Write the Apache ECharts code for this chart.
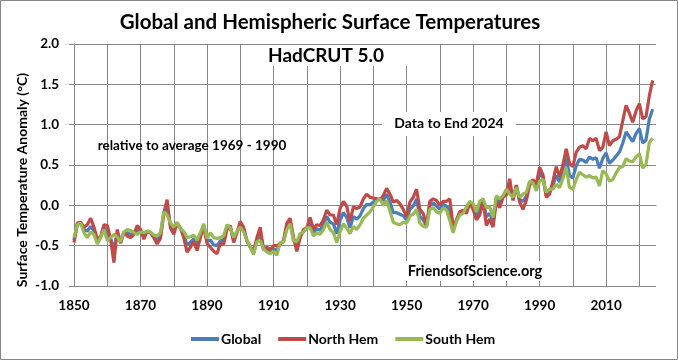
<!DOCTYPE html>
<html><head><meta charset="utf-8">
<script src="https://cdn.jsdelivr.net/npm/echarts@6/dist/echarts.min.js"></script>
<style>html,body{margin:0;padding:0;background:#fff}#c{width:678px;height:360px}</style>
</head><body><div id="c"></div>
<script>
const firstYear = 1850, lastAxisYear = 2025;
const years = [];
for (let y = firstYear; y <= lastAxisYear; y++) years.push(String(y));

const globalT = [
-0.43,-0.23,-0.22,-0.30,-0.32,-0.26,-0.32,-0.45,-0.40,-0.27,
-0.35,-0.41,-0.54,-0.35,-0.46,-0.33,-0.34,-0.36,-0.35,-0.31,
-0.32,-0.38,-0.32,-0.34,-0.39,-0.43,-0.38,-0.09,-0.03,-0.25,
-0.32,-0.22,-0.29,-0.36,-0.49,-0.46,-0.41,-0.50,-0.37,-0.25,
-0.44,-0.43,-0.49,-0.50,-0.44,-0.43,-0.27,-0.27,-0.43,-0.33,
-0.24,-0.30,-0.44,-0.52,-0.59,-0.43,-0.36,-0.55,-0.55,-0.58,
-0.54,-0.56,-0.47,-0.45,-0.26,-0.20,-0.42,-0.51,-0.38,-0.32,
-0.28,-0.22,-0.34,-0.29,-0.31,-0.24,-0.14,-0.21,-0.23,-0.35,
-0.19,-0.09,-0.15,-0.28,-0.14,-0.17,-0.13,-0.04,0.01,0.01,
0.04,0.07,0.08,0.06,0.14,0.04,-0.09,-0.09,-0.11,-0.13,
-0.18,-0.05,-0.01,0.08,-0.14,-0.18,-0.26,0.00,0.03,-0.01,
-0.05,0.01,-0.01,-0.06,-0.30,-0.19,-0.10,-0.08,-0.06,0.04,
-0.02,-0.13,-0.04,0.07,-0.14,-0.10,-0.21,0.09,0.03,0.11,
0.17,0.24,0.08,0.24,0.07,0.05,0.11,0.28,0.30,0.22,
0.39,0.35,0.13,0.17,0.25,0.37,0.29,0.42,0.59,0.37,
0.34,0.49,0.57,0.56,0.53,0.60,0.57,0.59,0.46,0.58,
0.65,0.52,0.56,0.61,0.66,0.77,0.91,0.85,0.79,0.89,
0.95,0.77,0.81,1.07,1.19
];
const northT = [
-0.46,-0.22,-0.21,-0.27,-0.24,-0.16,-0.27,-0.42,-0.39,-0.24,
-0.25,-0.42,-0.71,-0.30,-0.47,-0.33,-0.38,-0.40,-0.36,-0.25,
-0.30,-0.42,-0.32,-0.34,-0.40,-0.48,-0.41,-0.10,0.07,-0.28,
-0.36,-0.22,-0.28,-0.40,-0.58,-0.52,-0.45,-0.56,-0.40,-0.27,
-0.47,-0.52,-0.57,-0.60,-0.47,-0.48,-0.30,-0.25,-0.46,-0.34,
-0.20,-0.27,-0.44,-0.52,-0.56,-0.40,-0.27,-0.55,-0.52,-0.55,
-0.50,-0.50,-0.48,-0.44,-0.22,-0.16,-0.40,-0.57,-0.40,-0.30,
-0.28,-0.15,-0.30,-0.24,-0.25,-0.18,-0.06,-0.12,-0.12,-0.24,
-0.04,0.05,-0.01,-0.20,-0.02,-0.04,-0.02,0.08,0.14,0.10,
0.09,0.08,0.07,0.12,0.21,0.14,0.04,0.06,0.02,-0.05,
-0.14,0.04,0.10,0.20,-0.05,-0.10,-0.25,0.05,0.08,0.06,
0.00,0.05,0.05,0.08,-0.27,-0.18,-0.08,-0.06,-0.10,0.03,
-0.05,-0.18,-0.12,0.06,-0.25,-0.17,-0.27,0.05,-0.03,0.10,
0.13,0.33,0.06,0.25,0.04,-0.05,0.06,0.25,0.32,0.26,
0.47,0.38,0.10,0.14,0.30,0.48,0.35,0.50,0.70,0.52,
0.48,0.66,0.72,0.74,0.70,0.83,0.80,0.83,0.68,0.72,
0.91,0.74,0.80,0.82,0.85,1.05,1.24,1.14,1.03,1.17,
1.26,1.07,1.10,1.36,1.55
];
const southT = [
-0.40,-0.24,-0.22,-0.34,-0.40,-0.33,-0.36,-0.48,-0.40,-0.30,
-0.44,-0.40,-0.36,-0.39,-0.45,-0.33,-0.30,-0.31,-0.34,-0.36,
-0.33,-0.34,-0.32,-0.33,-0.37,-0.38,-0.34,-0.08,-0.12,-0.22,
-0.27,-0.21,-0.30,-0.32,-0.40,-0.39,-0.37,-0.43,-0.34,-0.23,
-0.41,-0.34,-0.40,-0.41,-0.40,-0.38,-0.24,-0.28,-0.40,-0.32,
-0.27,-0.33,-0.43,-0.52,-0.61,-0.45,-0.44,-0.54,-0.58,-0.60,
-0.57,-0.62,-0.46,-0.46,-0.30,-0.23,-0.44,-0.45,-0.35,-0.33,
-0.28,-0.28,-0.38,-0.34,-0.36,-0.30,-0.21,-0.30,-0.34,-0.46,
-0.33,-0.23,-0.28,-0.35,-0.26,-0.30,-0.24,-0.16,-0.12,-0.08,
-0.02,0.05,0.08,0.00,0.06,-0.07,-0.21,-0.23,-0.24,-0.21,
-0.22,-0.13,-0.11,-0.05,-0.22,-0.26,-0.27,-0.05,-0.03,-0.08,
-0.10,-0.03,-0.06,-0.19,-0.34,-0.20,-0.12,-0.10,-0.02,0.05,
0.02,-0.08,0.05,0.08,-0.03,-0.02,-0.15,0.12,0.08,0.12,
0.20,0.14,0.10,0.22,0.10,0.14,0.16,0.30,0.28,0.18,
0.30,0.32,0.16,0.20,0.20,0.26,0.22,0.33,0.47,0.22,
0.20,0.32,0.41,0.38,0.35,0.37,0.34,0.35,0.24,0.43,
0.39,0.30,0.32,0.40,0.47,0.48,0.58,0.55,0.54,0.60,
0.64,0.46,0.51,0.78,0.83
];
const seriesNames = ['Global', 'North Hem', 'South Hem'];
const seriesColors = ['#4A7EBB', '#BE4B48', '#98B954'];
const FONT = 'Lato';
const GRID = '#868686';

const chart = echarts.init(document.getElementById('c'), null, {renderer: 'canvas'});
const textEl = (x, y, text, size, extra) => Object.assign({
  type: 'text', x: x, y: y, z: 5,
  style: {text: text, fontFamily: FONT, fontWeight: 'bold', fontSize: size, fill: '#000',
          textAlign: 'center', textVerticalAlign: 'middle'}
}, extra || {});
const boxEl = (x, y, w, h) => ({type: 'rect', z: 4, shape: {x: x, y: y, width: w, height: h}, style: {fill: '#fff'}});

chart.setOption({
  animation: false,
  backgroundColor: '#fff',
  grid: {left: 74, right: 22, top: 44, bottom: 74, containLabel: false},
  legend: {
    data: seriesNames, left: 186, top: 327, icon: 'rect', itemWidth: 28, itemHeight: 4, itemGap: 17,
    textStyle: {fontFamily: FONT, fontWeight: 'bold', fontSize: 14, color: '#000', padding: [0,0,0,-3]}
  },
  xAxis: {
    type: 'category', data: years, boundaryGap: false,
    axisLine: {lineStyle: {color: GRID, width: 1}},
    axisTick: {show: true, interval: 9, length: 5, lineStyle: {color: GRID}},
    axisLabel: {interval: 19, margin: 13, fontFamily: FONT, fontWeight: 'bold', fontSize: 13.5, color: '#000'},
    splitLine: {show: true, interval: 9, lineStyle: {color: GRID, width: 1}}
  },
  yAxis: {
    type: 'value', min: -1, max: 2, interval: 0.5,
    axisLine: {show: true, lineStyle: {color: GRID, width: 1}},
    axisTick: {show: true, length: 5, lineStyle: {color: GRID}},
    axisLabel: {margin: 15, formatter: v => v.toFixed(1), fontFamily: FONT, fontWeight: 'bold', fontSize: 13.5, color: '#000'},
    splitLine: {show: true, lineStyle: {color: GRID, width: 1}}
  },
  series: [
    {name: seriesNames[0], type: 'line', data: globalT, showSymbol: false, symbol: 'none', z: 2,
     lineStyle: {color: seriesColors[0], width: 3.2}, itemStyle: {color: seriesColors[0]}},
    {name: seriesNames[1], type: 'line', data: northT, showSymbol: false, symbol: 'none', z: 3,
     lineStyle: {color: seriesColors[1], width: 3.2}, itemStyle: {color: seriesColors[1]}},
    {name: seriesNames[2], type: 'line', data: southT, showSymbol: false, symbol: 'none', z: 4,
     lineStyle: {color: seriesColors[2], width: 3.2}, itemStyle: {color: seriesColors[2]}}
  ],
  graphic: [
    {type: 'rect', z: 10, shape: {x: 0.5, y: 0.5, width: 677, height: 359}, style: {fill: 'none', stroke: '#868686', lineWidth: 1}},
    textEl(330, 22, 'Global and Hemispheric Surface Temperatures', 20.5),
    boxEl(260, 45, 150, 21),
    textEl(326, 56, 'HadCRUT 5.0', 19),
    boxEl(382, 112, 134, 24),
    textEl(449, 123, 'Data to End 2024', 14),
    textEl(192, 146, 'relative to average 1969 - 1990', 13.5),
    boxEl(398, 261, 154, 20),
    textEl(475, 271, 'FriendsofScience.org', 14.5),
    textEl(22, 180, 'Surface Temperature Anomaly (\u00B0C)', 14, {rotation: Math.PI / 2})
  ]
});
</script></body></html>
